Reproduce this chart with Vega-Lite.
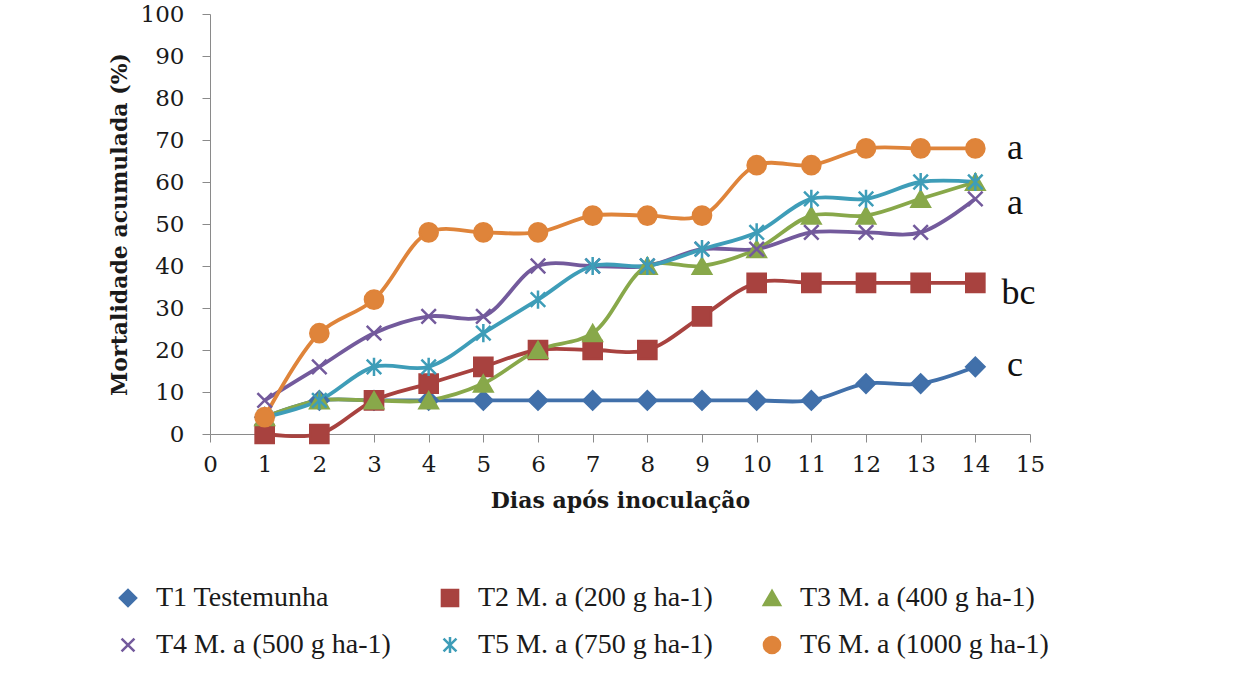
{
  "$schema": "https://vega.github.io/schema/vega-lite/v6.json",
  "width": 820,
  "height": 420,
  "autosize": {"type": "none"},
  "padding": {"left": 210, "top": 14, "right": 203, "bottom": 260},
  "background": "white",
  "config": {
    "view": {"stroke": null},
    "axis": {"grid": false, "domainColor": "#8a8a8a", "tickColor": "#8a8a8a", "tickSize": 8, "labelFont": "DejaVu Serif", "labelFontSize": 23, "labelColor": "#1a1a1a", "titleFont": "DejaVu Serif", "titleFontWeight": "bold", "titleColor": "#1a1a1a"},
    "legend": {"orient": "none", "legendX": -96, "legendY": 570, "columns": 3, "direction": "horizontal", "columnPadding": 45, "rowPadding": 19, "labelFont": "Liberation Serif", "labelFontSize": 28, "labelColor": "#1a1a1a", "labelLimit": 500, "symbolSize": 260, "symbolStrokeWidth": 2.5, "labelOffset": 14, "title": null}
  },
  "datasets": {
    "mort": [
      {"dia": 1, "trat": "T1 Testemunha", "mort": 4}, {"dia": 2, "trat": "T1 Testemunha", "mort": 8}, {"dia": 3, "trat": "T1 Testemunha", "mort": 8}, {"dia": 4, "trat": "T1 Testemunha", "mort": 8}, {"dia": 5, "trat": "T1 Testemunha", "mort": 8}, {"dia": 6, "trat": "T1 Testemunha", "mort": 8}, {"dia": 7, "trat": "T1 Testemunha", "mort": 8}, {"dia": 8, "trat": "T1 Testemunha", "mort": 8}, {"dia": 9, "trat": "T1 Testemunha", "mort": 8}, {"dia": 10, "trat": "T1 Testemunha", "mort": 8}, {"dia": 11, "trat": "T1 Testemunha", "mort": 8}, {"dia": 12, "trat": "T1 Testemunha", "mort": 12}, {"dia": 13, "trat": "T1 Testemunha", "mort": 12}, {"dia": 14, "trat": "T1 Testemunha", "mort": 16},
      {"dia": 1, "trat": "T2 M. a (200 g ha-1)", "mort": 0}, {"dia": 2, "trat": "T2 M. a (200 g ha-1)", "mort": 0}, {"dia": 3, "trat": "T2 M. a (200 g ha-1)", "mort": 8}, {"dia": 4, "trat": "T2 M. a (200 g ha-1)", "mort": 12}, {"dia": 5, "trat": "T2 M. a (200 g ha-1)", "mort": 16}, {"dia": 6, "trat": "T2 M. a (200 g ha-1)", "mort": 20}, {"dia": 7, "trat": "T2 M. a (200 g ha-1)", "mort": 20}, {"dia": 8, "trat": "T2 M. a (200 g ha-1)", "mort": 20}, {"dia": 9, "trat": "T2 M. a (200 g ha-1)", "mort": 28}, {"dia": 10, "trat": "T2 M. a (200 g ha-1)", "mort": 36}, {"dia": 11, "trat": "T2 M. a (200 g ha-1)", "mort": 36}, {"dia": 12, "trat": "T2 M. a (200 g ha-1)", "mort": 36}, {"dia": 13, "trat": "T2 M. a (200 g ha-1)", "mort": 36}, {"dia": 14, "trat": "T2 M. a (200 g ha-1)", "mort": 36},
      {"dia": 1, "trat": "T3 M. a (400 g ha-1)", "mort": 4}, {"dia": 2, "trat": "T3 M. a (400 g ha-1)", "mort": 8}, {"dia": 3, "trat": "T3 M. a (400 g ha-1)", "mort": 8}, {"dia": 4, "trat": "T3 M. a (400 g ha-1)", "mort": 8}, {"dia": 5, "trat": "T3 M. a (400 g ha-1)", "mort": 12}, {"dia": 6, "trat": "T3 M. a (400 g ha-1)", "mort": 20}, {"dia": 7, "trat": "T3 M. a (400 g ha-1)", "mort": 24}, {"dia": 8, "trat": "T3 M. a (400 g ha-1)", "mort": 40}, {"dia": 9, "trat": "T3 M. a (400 g ha-1)", "mort": 40}, {"dia": 10, "trat": "T3 M. a (400 g ha-1)", "mort": 44}, {"dia": 11, "trat": "T3 M. a (400 g ha-1)", "mort": 52}, {"dia": 12, "trat": "T3 M. a (400 g ha-1)", "mort": 52}, {"dia": 13, "trat": "T3 M. a (400 g ha-1)", "mort": 56}, {"dia": 14, "trat": "T3 M. a (400 g ha-1)", "mort": 60},
      {"dia": 1, "trat": "T4 M. a (500 g ha-1)", "mort": 8}, {"dia": 2, "trat": "T4 M. a (500 g ha-1)", "mort": 16}, {"dia": 3, "trat": "T4 M. a (500 g ha-1)", "mort": 24}, {"dia": 4, "trat": "T4 M. a (500 g ha-1)", "mort": 28}, {"dia": 5, "trat": "T4 M. a (500 g ha-1)", "mort": 28}, {"dia": 6, "trat": "T4 M. a (500 g ha-1)", "mort": 40}, {"dia": 7, "trat": "T4 M. a (500 g ha-1)", "mort": 40}, {"dia": 8, "trat": "T4 M. a (500 g ha-1)", "mort": 40}, {"dia": 9, "trat": "T4 M. a (500 g ha-1)", "mort": 44}, {"dia": 10, "trat": "T4 M. a (500 g ha-1)", "mort": 44}, {"dia": 11, "trat": "T4 M. a (500 g ha-1)", "mort": 48}, {"dia": 12, "trat": "T4 M. a (500 g ha-1)", "mort": 48}, {"dia": 13, "trat": "T4 M. a (500 g ha-1)", "mort": 48}, {"dia": 14, "trat": "T4 M. a (500 g ha-1)", "mort": 56},
      {"dia": 1, "trat": "T5 M. a (750 g ha-1)", "mort": 4}, {"dia": 2, "trat": "T5 M. a (750 g ha-1)", "mort": 8}, {"dia": 3, "trat": "T5 M. a (750 g ha-1)", "mort": 16}, {"dia": 4, "trat": "T5 M. a (750 g ha-1)", "mort": 16}, {"dia": 5, "trat": "T5 M. a (750 g ha-1)", "mort": 24}, {"dia": 6, "trat": "T5 M. a (750 g ha-1)", "mort": 32}, {"dia": 7, "trat": "T5 M. a (750 g ha-1)", "mort": 40}, {"dia": 8, "trat": "T5 M. a (750 g ha-1)", "mort": 40}, {"dia": 9, "trat": "T5 M. a (750 g ha-1)", "mort": 44}, {"dia": 10, "trat": "T5 M. a (750 g ha-1)", "mort": 48}, {"dia": 11, "trat": "T5 M. a (750 g ha-1)", "mort": 56}, {"dia": 12, "trat": "T5 M. a (750 g ha-1)", "mort": 56}, {"dia": 13, "trat": "T5 M. a (750 g ha-1)", "mort": 60}, {"dia": 14, "trat": "T5 M. a (750 g ha-1)", "mort": 60},
      {"dia": 1, "trat": "T6 M. a (1000 g ha-1)", "mort": 4}, {"dia": 2, "trat": "T6 M. a (1000 g ha-1)", "mort": 24}, {"dia": 3, "trat": "T6 M. a (1000 g ha-1)", "mort": 32}, {"dia": 4, "trat": "T6 M. a (1000 g ha-1)", "mort": 48}, {"dia": 5, "trat": "T6 M. a (1000 g ha-1)", "mort": 48}, {"dia": 6, "trat": "T6 M. a (1000 g ha-1)", "mort": 48}, {"dia": 7, "trat": "T6 M. a (1000 g ha-1)", "mort": 52}, {"dia": 8, "trat": "T6 M. a (1000 g ha-1)", "mort": 52}, {"dia": 9, "trat": "T6 M. a (1000 g ha-1)", "mort": 52}, {"dia": 10, "trat": "T6 M. a (1000 g ha-1)", "mort": 64}, {"dia": 11, "trat": "T6 M. a (1000 g ha-1)", "mort": 64}, {"dia": 12, "trat": "T6 M. a (1000 g ha-1)", "mort": 68}, {"dia": 13, "trat": "T6 M. a (1000 g ha-1)", "mort": 68}, {"dia": 14, "trat": "T6 M. a (1000 g ha-1)", "mort": 68}
    ],
    "letras": [
      {"dia": 14.58, "mort": 68, "letra": "a"},
      {"dia": 14.58, "mort": 55, "letra": "a"},
      {"dia": 14.48, "mort": 33.5, "letra": "bc"},
      {"dia": 14.58, "mort": 16.5, "letra": "c"}
    ]
  },
  "layer": [
    {
      "data": {"name": "mort"},
      "mark": {"type": "line", "interpolate": "catmull-rom", "strokeWidth": 3.8},
      "encoding": {
        "x": {"field": "dia", "type": "quantitative", "scale": {"domain": [0, 15], "nice": false}, "axis": {"values": [0,1,2,3,4,5,6,7,8,9,10,11,12,13,14,15], "title": "Dias após inoculação", "titleFontSize": 22, "labelPadding": 11, "titlePadding": 14, "labelFlush": false}},
        "y": {"field": "mort", "type": "quantitative", "scale": {"domain": [0, 100], "nice": false}, "axis": {"values": [0,10,20,30,40,50,60,70,80,90,100], "title": "Mortalidade acumulada (%)", "titleFontSize": 22, "titleX": -91, "titleY": 210, "titleBaseline": "middle", "titleAngle": -90, "titleAlign": "center", "labelPadding": 18, "labelFlush": false}},
        "stroke": {"field": "trat", "type": "nominal", "scale": {"domain": ["T1 Testemunha", "T2 M. a (200 g ha-1)", "T3 M. a (400 g ha-1)", "T4 M. a (500 g ha-1)", "T5 M. a (750 g ha-1)", "T6 M. a (1000 g ha-1)"], "range": ["#4170AA", "#A8423F", "#88A84A", "#735A9C", "#3E9DB8", "#DF843A"]}},
        "detail": {"field": "trat"}
      }
    },
    {
      "data": {"name": "mort"},
      "mark": {"type": "point", "filled": true, "opacity": 1, "strokeWidth": 2.5, "size": 330},
      "encoding": {
        "x": {"field": "dia", "type": "quantitative"},
        "y": {"field": "mort", "type": "quantitative"},
        "fill": {"field": "trat", "type": "nominal", "scale": {"domain": ["T1 Testemunha", "T2 M. a (200 g ha-1)", "T3 M. a (400 g ha-1)", "T4 M. a (500 g ha-1)", "T5 M. a (750 g ha-1)", "T6 M. a (1000 g ha-1)"], "range": ["#4170AA", "#A8423F", "#88A84A", "#735A9C", "#3E9DB8", "#DF843A"]}},
        "stroke": {"field": "trat", "type": "nominal"},
        "shape": {"field": "trat", "type": "nominal", "scale": {"domain": ["T1 Testemunha", "T2 M. a (200 g ha-1)", "T3 M. a (400 g ha-1)", "T4 M. a (500 g ha-1)", "T5 M. a (750 g ha-1)", "T6 M. a (1000 g ha-1)"], "range": ["diamond", "square", "triangle-up", "M-0.8,-0.8L0.8,0.8M-0.8,0.8L0.8,-0.8", "M-0.8,-0.8L0.8,0.8M-0.8,0.8L0.8,-0.8M0,-1L0,1", "circle"]}}
      }
    },
    {
      "data": {"name": "letras"},
      "mark": {"type": "text", "align": "left", "baseline": "middle", "font": "Liberation Serif", "fontSize": 36, "color": "#111111"},
      "encoding": {
        "x": {"field": "dia", "type": "quantitative"},
        "y": {"field": "mort", "type": "quantitative"},
        "text": {"field": "letra"}
      }
    }
  ]
}
